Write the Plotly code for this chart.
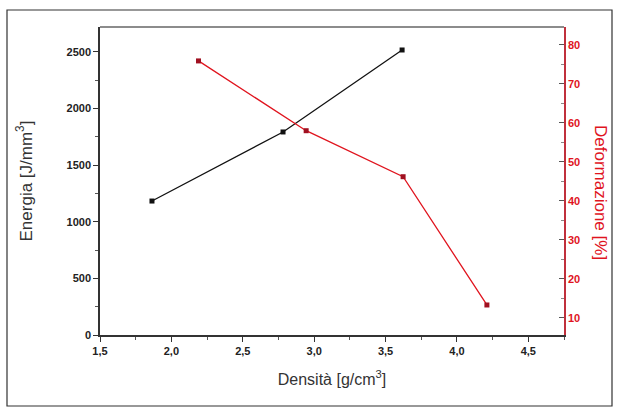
import plotly.graph_objects as go

# Data
densita_energia = [1.864, 2.782, 3.616]
energia = [1183, 1793, 2517]

densita_deform = [2.19, 2.944, 3.623, 4.21]
deformazione = [75.9, 58.0, 46.2, 13.3]

x_ticks = [1.5, 2.0, 2.5, 3.0, 3.5, 4.0, 4.5]
y_left_ticks = [0, 500, 1000, 1500, 2000, 2500]
y_right_ticks = [10, 20, 30, 40, 50, 60, 70, 80]

RED = "#e0141e"
RED_AXIS = "#c0303c"
DARK = "#222222"

fig = go.Figure()
fig.add_trace(go.Scatter(
    x=densita_energia, y=energia, mode="lines+markers",
    line=dict(color="#111111", width=1.3),
    marker=dict(symbol="square", size=5, color="#111111"),
    showlegend=False, yaxis="y"))
fig.add_trace(go.Scatter(
    x=densita_deform, y=deformazione, mode="lines+markers",
    line=dict(color=RED, width=1.3),
    marker=dict(symbol="square", size=5, color="#a01020"),
    showlegend=False, yaxis="y2"))

W, H = 619, 412
L, R, T, B = 100, 55, 27, 77
pw, ph = W - L - R, H - T - B

def px_x(px):
    return (px - L) / pw

def px_y(py):
    return (H - B - py) / ph

tickfont = dict(family="Arial, Liberation Sans, sans-serif", size=11, color=DARK, weight="bold")

fig.update_layout(
    width=W, height=H,
    margin=dict(l=L, r=R, t=T, b=B, autoexpand=False),
    paper_bgcolor="white", plot_bgcolor="white",
    separators=",.",
    font=dict(family="Arial, Liberation Sans, sans-serif"),
    xaxis=dict(
        range=[1.5, 4.75], tickvals=x_ticks, tickformat=".1f",
        showgrid=False, zeroline=False,
        showline=True, linecolor="#333333", linewidth=1.5,
        ticks="outside", ticklen=5, tickwidth=1.2, tickcolor="#333333",
        minor=dict(dtick=0.25, ticks="outside", ticklen=3, tickcolor="#555555"),
        tickfont=tickfont,
        title=dict(text="Densità [g/cm<sup>3</sup>]", font=dict(size=16, color="#333333"), standoff=18),
    ),
    yaxis=dict(
        range=[0, 2720], tickvals=y_left_ticks,
        showgrid=False, zeroline=False,
        showline=True, linecolor="#333333", linewidth=1.5,
        ticks="outside", ticklen=5, tickwidth=1.2, tickcolor="#333333",
        minor=dict(dtick=250, ticks="outside", ticklen=3, tickcolor="#555555"),
        tickfont=tickfont,
        title=dict(text="Energia [J/mm<sup>3</sup>]", font=dict(size=17, color="#333333"), standoff=30),
    ),
    yaxis2=dict(
        overlaying="y", side="right",
        range=[5.6, 84.6], tickvals=y_right_ticks,
        showgrid=False, zeroline=False,
        showline=True, linecolor=RED_AXIS, linewidth=1.5,
        ticks="inside", ticklen=5, tickwidth=1.2, tickcolor="#555555",
        minor=dict(dtick=5, ticks="inside", ticklen=3, tickcolor="#888888"),
        tickfont=dict(family="Arial, Liberation Sans, sans-serif", size=11, color=RED, weight="bold"),
    ),
)

# top border of the plot frame
fig.add_shape(type="line", xref="paper", yref="paper", x0=0, x1=1, y0=1, y1=1,
              line=dict(color="#666666", width=1.5))
# outer frame of the picture
fig.add_shape(type="rect", xref="paper", yref="paper",
              x0=px_x(7), x1=px_x(612), y0=px_y(406), y1=px_y(10),
              line=dict(color="#333333", width=1.2))

fig.add_annotation(text="Deformazione [%]", xref="paper", yref="paper",
                   x=px_x(601), y=px_y(192), textangle=90, showarrow=False,
                   font=dict(size=17, color=RED), xanchor="center", yanchor="middle")

fig.write_html("out.html", config={"displayModeBar": False},
               post_script="document.body.style.margin='0';")
